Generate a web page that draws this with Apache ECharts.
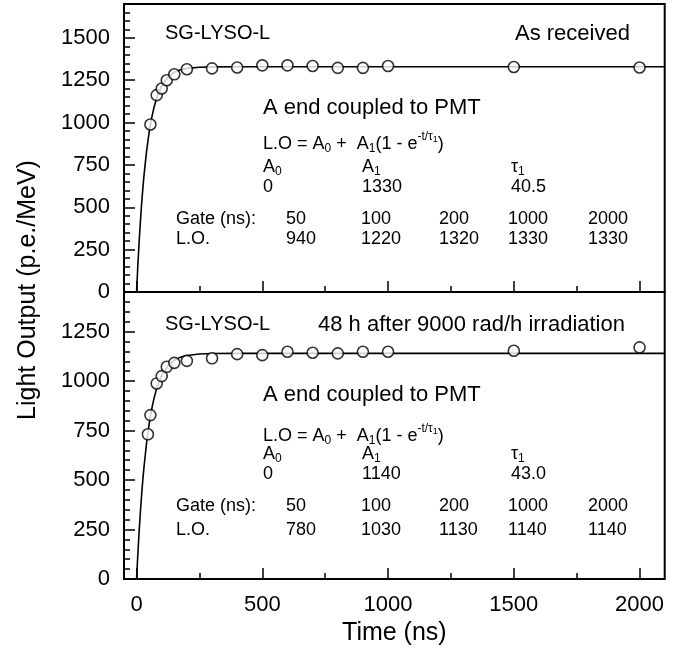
<!DOCTYPE html>
<html><head><meta charset="utf-8">
<script src="https://cdn.jsdelivr.net/npm/echarts@6/dist/echarts.min.js"></script>
<style>html,body{margin:0;padding:0;background:#fff}#c{width:683px;height:658px}</style>
</head><body><div id="c"></div>
<script>
// ---- tick values ----
const xMajorTicks = [0, 500, 1000, 1500, 2000];
const xMinorTicks = [250, 750, 1250, 1750];
const topYMajorTicks = [0, 250, 500, 750, 1000, 1250, 1500];
const topYMinorTicks = [50,100,150,200,300,350,400,450,550,600,650,700,800,850,900,950,1050,1100,1150,1200,1300,1350,1400,1450,1550,1600,1650];
const botYMajorTicks = [0, 250, 500, 750, 1000, 1250];
const botYMinorTicks = [50,100,150,200,300,350,400,450,550,600,650,700,800,850,900,950,1050,1100,1150,1200,1300,1350,1400];

// ---- measured points (gate ns, light output) ----
const topGateT = [55,80,100,120,150,200,300,400,500,600,700,800,900,1000,1500,2000];
const topLO    = [989,1162,1201,1250,1285,1315,1320,1325,1338,1338,1334,1323,1323,1334,1328,1325];
const botGateT = [45,55,80,100,120,150,200,300,400,500,600,700,800,900,1000,1500,2000];
const botLO    = [731,828,988,1025,1072,1092,1102,1115,1136,1131,1148,1143,1140,1148,1148,1153,1170];

// ---- fit curves ----
const fitT     = [0,5,10,15,20,25,30,40,50,60,70,80,90,100,125,150,175,200,250,300,400,600,1000,2100];
const topFitLO = [0,155,291,412,519,613,696,835,943,1028,1094,1145,1186,1217,1269,1297,1312,1320,1327,1329,1330,1330,1330,1330];
const botFitLO = [0,125,237,336,424,503,572,690,784,858,916,963,999,1029,1078,1105,1121,1129,1137,1139,1140,1140,1140,1140];

// ---- table texts ----
const tableGates = ['50','100','200','1000','2000'];
const topTableLO = ['940','1220','1320','1330','1330'];
const botTableLO = ['780','1030','1130','1140','1140'];
const topParams  = ['0','1330','40.5'];
const botParams  = ['0','1140','43.0'];

const FONT = "'Liberation Sans', Arial, Helvetica, sans-serif";
const zip = (a, b) => a.map((v, i) => [v, b[i]]);

const chart = echarts.init(document.getElementById('c'), null, {renderer: 'canvas'});

const GL = 124, GW = 540.7;
const tickStyle = {color: '#000', width: 1.5};
const plain = v => String(v);

function xAx(grid, values, len, labels) {
  return {
    type: 'value', gridIndex: grid, min: -50, max: 2100, position: 'bottom',
    axisLine: {show: false, onZero: false}, splitLine: {show: false},
    axisTick: {show: true, inside: true, length: len, customValues: values, lineStyle: tickStyle},
    axisLabel: labels ? {show: true, customValues: values, margin: 15, fontSize: 22, color: '#000', fontFamily: FONT, formatter: plain} : {show: false}
  };
}
function yAx(grid, min, max, values, len, labels) {
  return {
    type: 'value', gridIndex: grid, min: min, max: max, position: 'left', offset: 0,
    axisLine: {show: false, onZero: false}, splitLine: {show: false},
    axisTick: {show: true, inside: true, length: len, customValues: values, lineStyle: tickStyle},
    axisLabel: labels ? {show: true, customValues: values, margin: 14, fontSize: 22, color: '#000', fontFamily: FONT, formatter: plain} : {show: false}
  };
}

const xAxes = [
  xAx(0, xMajorTicks, 11, false),
  xAx(0, xMinorTicks, 6, false),
  xAx(1, xMajorTicks, 11, true),
  xAx(1, xMinorTicks, 6, false)
];
xAxes[2].name = 'Time (ns)';
xAxes[2].nameLocation = 'middle';
xAxes[2].nameGap = 42;
xAxes[2].nameTextStyle = {fontSize: 25, color: '#000', fontFamily: FONT};

const yAxes = [
  yAx(0, 0, 1700, topYMajorTicks, 11, true),
  yAx(0, 0, 1700, topYMinorTicks, 6, false),
  yAx(1, 0, 1450, botYMajorTicks, 11, true),
  yAx(1, 0, 1450, botYMinorTicks, 6, false)
];

const rich = {
  sub: {fontSize: 12, fontFamily: FONT, color: '#000', padding: [10, 0, 0, 0]},
  sup: {fontSize: 12, fontFamily: FONT, color: '#000', padding: [0, 0, 14, 0]},
  supsub: {fontSize: 9, fontFamily: FONT, color: '#000', padding: [0, 0, 8, 0]}
};
function txt(x, y, text, size) {
  return {
    type: 'text', silent: true,
    style: {x: x, y: y, text: text, fontSize: size, fontFamily: FONT, fill: '#000',
            textAlign: 'left', textVerticalAlign: 'middle', lineHeight: 24, rich: rich}
  };
}

function panelTexts(ys, title, titleX, titleSize, params, loVals) {
  const out = [];
  out.push(txt(165, ys.sg, 'SG-LYSO-L', 20));
  out.push(txt(titleX, ys.title, title, titleSize));
  out.push(txt(263, ys.aend, 'A end coupled to PMT', 22));
  out.push(txt(263, ys.formula, 'L.O = A{sub|0} +  A{sub|1}(1 - e{sup|-t/τ}{supsub|1})', 18));
  const pcols = [263, 362, 511];
  const heads = ['A{sub|0}', 'A{sub|1}', 'τ{sub|1}'];
  for (let i = 0; i < 3; i++) {
    out.push(txt(pcols[i], ys.heads, heads[i], 18));
    out.push(txt(pcols[i], ys.params, params[i], 18));
  }
  out.push(txt(176, ys.gate, 'Gate (ns):', 18));
  out.push(txt(176, ys.lo, 'L.O.', 18));
  const cols = [286, 361, 439, 508, 588];
  for (let i = 0; i < 5; i++) {
    out.push(txt(cols[i], ys.gate, tableGates[i], 18));
    out.push(txt(cols[i], ys.lo, loVals[i], 18));
  }
  return out;
}

const graphics = []
  .concat(panelTexts({sg: 33, title: 34, aend: 108, formula: 144, heads: 167, params: 187, gate: 219, lo: 239},
                     'As received', 515, 22, topParams, topTableLO))
  .concat(panelTexts({sg: 324, title: 325, aend: 395, formula: 436, heads: 454, params: 474, gate: 506, lo: 530},
                     '48 h after 9000 rad/h irradiation', 318, 22, botParams, botTableLO));
graphics.push({
  type: 'text', silent: true, x: 28, y: 290, rotation: Math.PI / 2,
  style: {x: 0, y: 0, text: 'Light Output (p.e./MeV)', fontSize: 25, fontFamily: FONT, fill: '#000',
          textAlign: 'center', textVerticalAlign: 'middle'}
});

const lineStyle = {color: '#000', width: 1.6};
const pointStyle = {color: '#fff', borderColor: '#000', borderWidth: 1.6};

chart.setOption({
  animation: false,
  backgroundColor: '#fff',
  grid: [
    {left: GL, top: 4, width: GW, height: 288, show: true, borderColor: '#000', borderWidth: 2, backgroundColor: 'transparent'},
    {left: GL, top: 292, width: GW, height: 287, show: true, borderColor: '#000', borderWidth: 2, backgroundColor: 'transparent'}
  ],
  xAxis: xAxes,
  yAxis: yAxes,
  series: [
    {type: 'line', xAxisIndex: 0, yAxisIndex: 0, data: zip(fitT, topFitLO), showSymbol: false, lineStyle: lineStyle, z: 2, silent: true},
    {type: 'scatter', xAxisIndex: 0, yAxisIndex: 0, data: zip(topGateT, topLO), symbol: 'circle', symbolSize: 11, itemStyle: pointStyle, z: 3},
    {type: 'line', xAxisIndex: 2, yAxisIndex: 2, data: zip(fitT, botFitLO), showSymbol: false, lineStyle: lineStyle, z: 2, silent: true},
    {type: 'scatter', xAxisIndex: 2, yAxisIndex: 2, data: zip(botGateT, botLO), symbol: 'circle', symbolSize: 11, itemStyle: pointStyle, z: 3}
  ],
  graphic: graphics
});
</script></body></html>
